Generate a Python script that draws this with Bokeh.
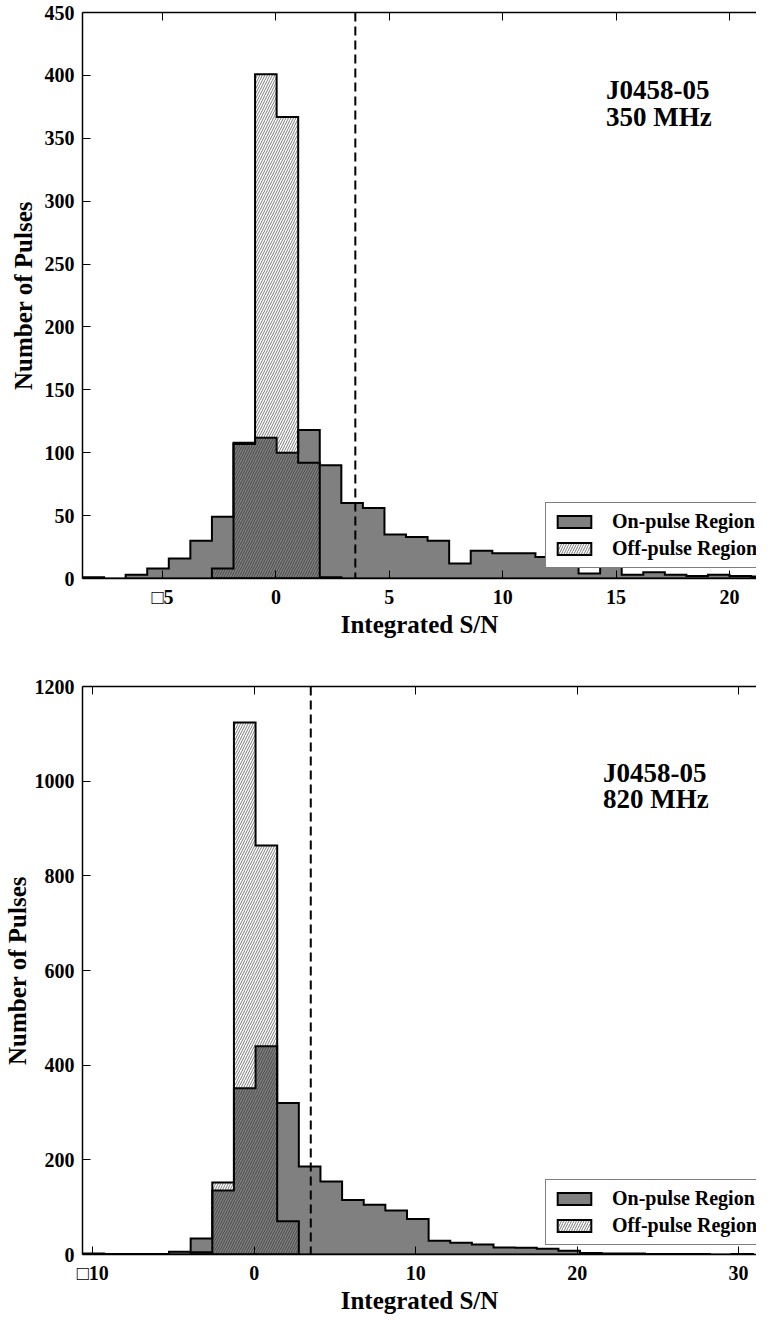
from bokeh.plotting import figure
from bokeh.models import Range1d, FixedTicker, LinearAxis, Legend, LegendItem, Label, Span
from bokeh.layouts import column
from bokeh.embed import file_html
from bokeh.resources import INLINE

# ---------------- data: 350 MHz ----------------
top_edges = [-8.529, -7.578, -6.627, -5.676, -4.725, -3.774, -2.823, -1.872, -0.921,
             0.030, 0.981, 1.932, 2.883, 3.834, 4.785, 5.736, 6.687, 7.638, 8.589,
             9.540, 10.491, 11.442, 12.393, 13.344, 14.295, 15.246, 16.197, 17.148,
             18.099, 19.050, 20.001, 20.952, 21.903]
top_on = [1, 0, 3, 8, 16, 30, 49, 108, 112, 100, 118, 90, 60, 56, 35, 33, 30, 12,
          22, 20, 20, 17, 12, 4, 10, 3, 5, 3, 2, 3, 2, 1.5]
top_off_edges = [-2.823, -1.872, -0.921, 0.030, 0.981, 1.932, 2.883]
top_off = [8, 107, 401, 367, 92, 1]

# ---------------- data: 820 MHz ----------------
bot_edges = [-10.64, -9.30, -7.96, -6.62, -5.28, -3.94, -2.60, -1.26, 0.08, 1.42,
             2.76, 4.10, 5.44, 6.78, 8.12, 9.46, 10.80, 12.14, 13.48, 14.82, 16.16,
             17.50, 18.84, 20.18, 21.52, 22.86, 24.20, 25.54, 26.88, 28.22, 29.56, 30.90]
bot_on = [2, 1, 1, 1, 6, 34, 135, 351, 440, 320, 186, 154, 115, 105, 93, 75, 29, 25,
          21, 15, 14, 12, 8, 3, 2, 2, 1, 1, 1, 0, 1]
bot_off_edges = [-3.94, -2.60, -1.26, 0.08, 1.42, 2.76]
bot_off = [5, 152, 1124, 864, 70]

threshold = 3.5
top_xticks = [-5, 0, 5, 10, 15, 20]
top_yticks = [0, 50, 100, 150, 200, 250, 300, 350, 400, 450]
bot_xticks = [-10, 0, 10, 20, 30]
bot_yticks = [0, 200, 400, 600, 800, 1000, 1200]
top_label = ["J0458-05", "350 MHz"]
bot_label = ["J0458-05", "820 MHz"]

FONT = "Liberation Serif"


def step_outline(edges, counts):
    xs = [edges[0]]
    ys = [0]
    for i, c in enumerate(counts):
        xs += [edges[i], edges[i + 1]]
        ys += [c, c]
    xs.append(edges[len(counts)])
    ys.append(0)
    return xs, ys


def make_panel(edges, on, off_edges, off, xr, yr, xticks, yticks, overrides,
               labels, label_x, label_y, height, mb_left, mb_top, mb_bottom,
               legend_loc, ylab_standoff):
    p = figure(width=756, height=height, x_range=Range1d(*xr), y_range=Range1d(*yr),
               output_backend="svg", toolbar_location=None,
               min_border_left=mb_left, min_border_right=0,
               min_border_top=mb_top, min_border_bottom=mb_bottom)
    p.outline_line_color = None
    p.xgrid.visible = False
    p.ygrid.visible = False
    p.background_fill_color = "white"

    xs, ys = step_outline(edges, on)
    r_on = p.patch(xs, ys, fill_color="#808080", line_color="black", line_width=2,
                   line_join="miter")
    xo, yo = step_outline(off_edges, off)
    r_off = p.patch(xo, yo, fill_alpha=0, line_color="black", line_width=2,
                    line_join="miter", hatch_pattern="/", hatch_color="#222222",
                    hatch_scale=5, hatch_weight=0.6)

    p.add_layout(Span(location=threshold, dimension="height", line_color="black",
                      line_width=2, line_dash="9 5"))

    for ax in (p.xaxis[0], p.yaxis[0]):
        ax.major_tick_in = 8
        ax.major_tick_out = 0
        ax.minor_tick_in = 0
        ax.minor_tick_out = 0
        ax.axis_line_width = 1.5
        ax.axis_line_color = "black"
        ax.major_tick_line_color = "black"
        ax.major_label_text_font = FONT
        ax.major_label_text_font_style = "bold"
        ax.major_label_text_font_size = "20px"
        ax.major_label_text_color = "black"
        ax.axis_label_text_font = FONT
        ax.axis_label_text_font_style = "bold"
        ax.axis_label_text_font_size = "25px"
        ax.axis_label_text_color = "black"

    p.xaxis.ticker = FixedTicker(ticks=xticks)
    p.xaxis.major_label_overrides = overrides
    p.xaxis.major_label_standoff = 7
    p.xaxis.axis_label = "Integrated S/N"
    p.xaxis.axis_label_standoff = 0
    p.yaxis.ticker = FixedTicker(ticks=yticks)
    p.yaxis.major_label_standoff = 8
    p.yaxis.axis_label = "Number of Pulses"
    p.yaxis.axis_label_standoff = ylab_standoff

    top_ax = LinearAxis(ticker=FixedTicker(ticks=xticks), major_tick_in=8,
                        major_tick_out=0, minor_tick_in=0, minor_tick_out=0,
                        major_label_overrides={t: "" for t in xticks},
                        major_label_text_font_size="1px", major_label_standoff=0,
                        axis_line_width=1.5, axis_line_color="black")
    p.add_layout(top_ax, "above")

    legend = Legend(items=[LegendItem(label="On-pulse Region", renderers=[r_on]),
                           LegendItem(label="Off-pulse Region", renderers=[r_off])],
                    location=legend_loc, margin=0, padding=7, spacing=4,
                    glyph_width=42, glyph_height=15, label_standoff=17,
                    label_text_font=FONT, label_text_font_style="bold",
                    label_text_font_size="20px", label_text_color="black",
                    border_line_color="black", border_line_width=1.5,
                    background_fill_color="white", background_fill_alpha=1)
    p.add_layout(legend)

    for txt, yy in zip(labels, label_y):
        p.add_layout(Label(x=label_x, y=yy, text=txt, text_font=FONT,
                           text_font_style="bold", text_font_size="27px",
                           text_color="black", text_baseline="alphabetic"))
    return p


p1 = make_panel(top_edges, top_on, top_off_edges, top_off,
                (-8.53, 21.19), (0, 450), top_xticks, top_yticks,
                {-5: "\u25a15"}, top_label, 14.55, [388, 367],
                height=640, mb_left=71, mb_top=12, mb_bottom=60,
                legend_loc=(463, 10), ylab_standoff=5)
p2 = make_panel(bot_edges, bot_on, bot_off_edges, bot_off,
                (-10.64, 31.11), (0, 1200), bot_xticks, bot_yticks,
                {-10: "\u25a110"}, bot_label, 21.6, [1018, 962],
                height=676, mb_left=75, mb_top=46, mb_bottom=52,
                legend_loc=(463, 9), ylab_standoff=1)

layout = column(p1, p2, spacing=0)
open("out.html", "w").write(file_html(layout, INLINE))
